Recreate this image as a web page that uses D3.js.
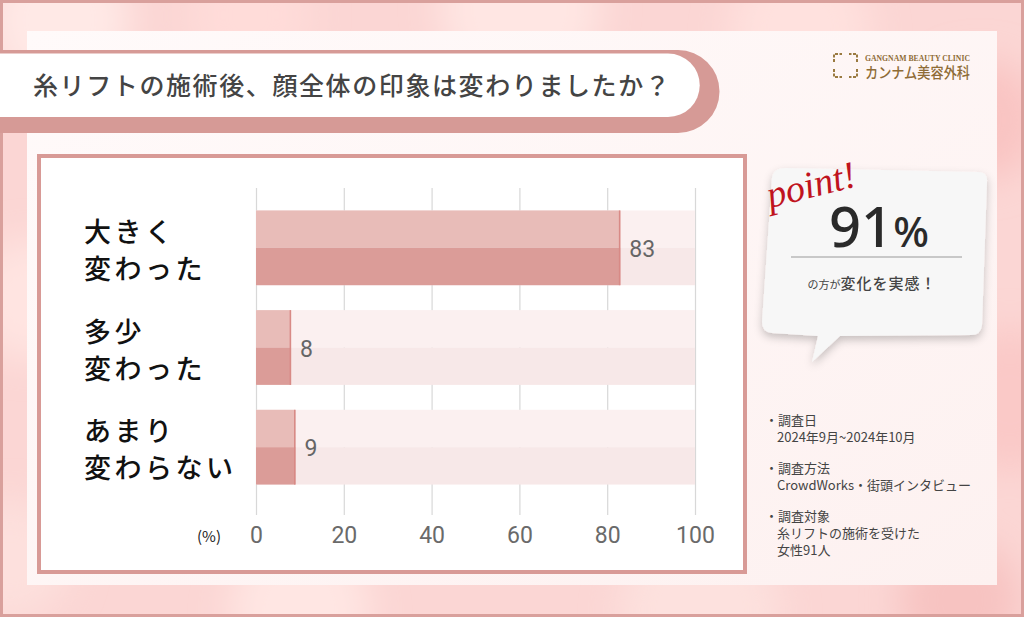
<!DOCTYPE html>
<html><head><meta charset="utf-8">
<script src="https://cdn.jsdelivr.net/npm/d3@7"></script>
<style>
html,body{margin:0;padding:0;background:#fff;}
svg{display:block;}
</style></head>
<body>
<script>
// ---- data ----
const categories = [["大きく","変わった"],["多少","変わった"],["あまり","変わらない"]];
const values = [83, 8, 9];
const xTicks = [0, 20, 40, 60, 80, 100];
const title = "糸リフトの施術後、顔全体の印象は変わりましたか？";
const highlight = "91%";
const notes = [
  ["調査日", ["2024年9月~2024年10月"]],
  ["調査方法", ["CrowdWorks・街頭インタビュー"]],
  ["調査対象", ["糸リフトの施術を受けた", "女性91人"]]
];

const W = 1024, H = 617;
const jp = "'Noto Sans CJK JP','Noto Sans',sans-serif";
const svg = d3.select("body").append("svg").attr("width", W).attr("height", H);
const defs = svg.append("defs");

// background
const blur = defs.append("filter").attr("id","blur").attr("x","-50%").attr("y","-50%").attr("width","200%").attr("height","200%");
blur.append("feGaussianBlur").attr("stdDeviation", 18);
const shadow = defs.append("filter").attr("id","shadow").attr("x","-20%").attr("y","-20%").attr("width","140%").attr("height","150%");
shadow.append("feDropShadow").attr("dx",0).attr("dy",4).attr("stdDeviation",4).attr("flood-color","#000").attr("flood-opacity",0.22);

svg.append("rect").attr("width",W).attr("height",H).attr("fill","#fbd6d4");
const bokeh = [[60,20,70,"#ffe9e6"],[250,15,60,"#ffdcd9"],[520,10,80,"#ffe6e3"],[800,30,70,"#ffe1de"],[980,120,60,"#f9c4c2"],[1010,400,70,"#fac9c7"],[30,300,60,"#ffe4e1"],[10,560,60,"#fde0dd"],[300,610,70,"#ffe6e3"],[700,610,80,"#fde1de"],[960,600,60,"#f7c3c1"]];
svg.append("g").attr("filter","url(#blur)").selectAll("circle").data(bokeh).join("circle")
  .attr("cx",d=>d[0]).attr("cy",d=>d[1]).attr("r",d=>d[2]).attr("fill",d=>d[3]);
svg.append("rect").attr("x",1.5).attr("y",1.5).attr("width",W-3).attr("height",H-3).attr("fill","none").attr("stroke","#d9a09c").attr("stroke-width",3);

const pg = defs.append("linearGradient").attr("id","panel").attr("x1",0).attr("y1",0).attr("x2",1).attr("y2",1);
pg.append("stop").attr("offset","0").attr("stop-color","#fffafa");
pg.append("stop").attr("offset","1").attr("stop-color","#fdf1f0");
svg.append("rect").attr("x",27).attr("y",31).attr("width",970).attr("height",554).attr("fill","url(#panel)");

// title banner
svg.append("path").attr("fill","#d69a96")
  .attr("d","M-10,50 H678 A41.5,41.5 0 0 1 678,133 H-10 Z");
svg.append("path").attr("fill","#fff")
  .attr("d","M-10,53.5 H668 A31.75,31.75 0 0 1 668,117 H-10 Z");
svg.append("text").attr("x",33).attr("y",95).attr("font-family",jp).attr("font-size",25).attr("font-weight",500)
  .attr("fill","#444").attr("letter-spacing",1.6).text(title);

// logo
const logo = svg.append("g").attr("fill","#8e6c36");
const icon = logo.append("g").attr("stroke","#9a7a40").attr("stroke-width",2).attr("fill","none");
[[834,54,1,1],[857,54,-1,1],[834,77,1,-1],[857,77,-1,-1]].forEach(([x,y,sx,sy])=>{
  icon.append("path").attr("d",`M${x},${y+sy*8} V${y} H${x+sx*8}`).attr("stroke-dasharray","3 1.5");
});
logo.append("text").attr("x",865).attr("y",61).attr("font-family","'Liberation Serif',serif").attr("font-size",9).attr("font-weight",700)
  .attr("textLength",105).attr("lengthAdjust","spacingAndGlyphs").text("GANGNAM BEAUTY CLINIC");
logo.append("text").attr("x",865).attr("y",78).attr("font-family",jp).attr("font-size",15).attr("font-weight",500)
  .attr("textLength",105).attr("lengthAdjust","spacingAndGlyphs").text("カンナム美容外科");

// chart panel
svg.append("rect").attr("x",39).attr("y",156).attr("width",706).attr("height",416).attr("fill","#fff").attr("stroke","#d89a96").attr("stroke-width",4);

const x = d3.scaleLinear().domain([0,100]).range([256,695]);
const y = d3.scaleBand().domain(d3.range(categories.length)).range([198,497]).paddingInner(0.25).paddingOuter(0.125);
const bw = y.bandwidth();

// gridlines via axis
const gAxis = svg.append("g").attr("transform","translate(0,188)")
  .call(d3.axisBottom(x).tickValues(xTicks).tickSize(327).tickFormat(""));
gAxis.select(".domain").remove();
gAxis.selectAll(".tick line").attr("stroke","#d8d8d8").attr("stroke-width",1.2);

// tick labels
const gLab = svg.append("g").attr("transform","translate(0,543)")
  .call(d3.axisBottom(x).tickValues(xTicks).tickSize(0).tickPadding(0));
gLab.select(".domain").remove();
gLab.selectAll("text").attr("dy",0).attr("font-family","Roboto,sans-serif").attr("font-size",23).attr("fill","#6a6a6a");
svg.append("text").attr("x",209).attr("y",542).attr("text-anchor","middle").attr("font-family",jp).attr("font-size",15).attr("fill","#222").text("(%)");

// tracks & bars
const rows = svg.append("g").selectAll("g").data(values).join("g").attr("transform",(d,i)=>`translate(0,${y(i)})`);
rows.append("rect").attr("x",x(0)).attr("y",0).attr("width",x(100)-x(0)).attr("height",bw/2).attr("fill","#fbf0f0");
rows.append("rect").attr("x",x(0)).attr("y",bw/2).attr("width",x(100)-x(0)).attr("height",bw/2).attr("fill","#f7e8e8");
rows.append("rect").attr("x",x(0)).attr("y",0).attr("width",d=>x(d)-x(0)).attr("height",bw/2).attr("fill","#e8bcb8");
rows.append("rect").attr("x",x(0)).attr("y",bw/2).attr("width",d=>x(d)-x(0)).attr("height",bw/2).attr("fill","#db9c98");
rows.append("rect").attr("x",d=>x(d)-1.5).attr("y",0).attr("width",1.5).attr("height",bw).attr("fill","#d88a86");
rows.append("text").attr("x",d=>x(d)+9).attr("y",bw/2+9).attr("font-family","Roboto,sans-serif").attr("font-size",23).attr("fill","#666").text(d=>d);

// category labels
const cl = svg.append("g").selectAll("text").data(categories).join("text")
  .attr("font-family",jp).attr("font-size",27).attr("font-weight",500).attr("fill","#111").attr("letter-spacing",3.5);
cl.each(function(d,i){
  const c = y(i)+bw/2;
  const t = d3.select(this);
  t.append("tspan").attr("x",84).attr("y",c-6).text(d[0]);
  t.append("tspan").attr("x",84).attr("y",c+31).text(d[1]);
});

// speech bubble
svg.append("path").attr("fill","#f7f7f7").attr("filter","url(#shadow)")
  .attr("d","M786,168 L978,172 Q988,172 987,182 L982,325 Q981,335 971,335 L840,336 L812,362 L818,336 L772,333 Q762,332 762,322 L772,178 Q773,168 786,168 Z");
svg.append("text").attr("transform","translate(770,208) rotate(-14)").attr("font-family","'Liberation Serif','DejaVu Serif',serif")
  .attr("font-style","italic").attr("font-size",38).attr("fill","#c0141e").text("point!");
const big = svg.append("text").attr("x",879).attr("y",247).attr("text-anchor","middle").attr("font-family","'Noto Sans',sans-serif").attr("font-weight",500).attr("fill","#2a2a2a");
big.append("tspan").attr("font-size",56).text(highlight.replace("%",""));
big.append("tspan").attr("font-size",42).text("%");
svg.append("line").attr("x1",791).attr("x2",962).attr("y1",257).attr("y2",257).attr("stroke","#999").attr("stroke-width",1);
const sub = svg.append("text").attr("x",872).attr("y",289).attr("text-anchor","middle").attr("font-family",jp).attr("fill","#444");
sub.append("tspan").attr("font-size",11).text("の方が");
sub.append("tspan").attr("font-size",15).attr("font-weight",500).attr("letter-spacing",1).text("変化を実感！");

// notes
const ng = svg.append("g").attr("font-family",jp).attr("font-size",13).attr("fill","#444");
let yy = 425;
notes.forEach(([h, lines])=>{
  ng.append("text").attr("x",765).attr("y",yy).text("・"+h);
  lines.forEach((l,j)=>{ ng.append("text").attr("x",777).attr("y",yy+17*(j+1)).text(l); });
  yy += 48;
});
</script>
</body></html>
